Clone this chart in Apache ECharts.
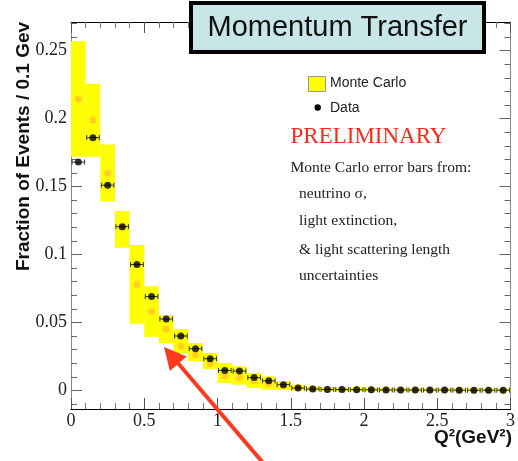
<!DOCTYPE html>
<html>
<head>
<meta charset="utf-8">
<script src="https://cdn.jsdelivr.net/npm/echarts@6/dist/echarts.min.js"></script>
<style>
html,body{margin:0;padding:0;background:#fff;}
#chart{width:518px;height:461px;}
</style>
</head>
<body>
<div id="chart"></div>
<script>
// ---- data ----
const binCenters = [0.05,0.15,0.25,0.35,0.45,0.55,0.65,0.75,0.85,0.95,
                    1.05,1.15,1.25,1.35,1.45,1.55,1.65,1.75,1.85,1.95,
                    2.05,2.15,2.25,2.35,2.45,2.55,2.65,2.75,2.85,2.95];
const dataValues = [0.168,0.186,0.151,0.1205,0.0926,0.069,0.0525,0.040,0.0307,0.0233,
                    0.0147,0.0142,0.0094,0.0070,0.0042,0.0017,0.0010,0.0007,0.0006,0.0005,
                    0.0004,0.0003,0.0003,0.0002,0.0002,0.0002,0.0001,0.0001,0.0001,0.0001];
const mcValues   = [0.2145,0.199,0.160,0.120,0.078,0.058,0.045,0.0324,0.0262,0.0198,
                    0.0105,0.0095,0.0070,0.0050,0.0035,0.0020,0.0012,0.0009,0.0007,0.0006,
                    0.0005,0.0004,0.0003,0.0003,0.0002,0.0002,0.0002,0.0001,0.0001,0.0001];
const mcLow      = [0.172,0.172,0.139,0.105,0.049,0.0395,0.0347,0.0272,0.0215,0.0157,
                    0.0054,0.0042,0.0017,0.0005,0.0002,0.0000,-0.0004,-0.0006,-0.0006,-0.0007,
                    -0.0007,-0.0007,-0.0007,-0.0007,-0.0007,-0.0007,-0.0007,-0.0007,-0.0007,-0.0007];
const mcHigh     = [0.257,0.2257,0.181,0.132,0.107,0.0767,0.0554,0.045,0.0348,0.0275,
                    0.0201,0.0176,0.0128,0.0103,0.0068,0.0042,0.0028,0.0024,0.0021,0.0020,
                    0.0018,0.0017,0.0016,0.0016,0.0015,0.0015,0.0015,0.0014,0.0014,0.0014];
const binHalfWidth = 0.05;
const yMajorTicks = [0,0.05,0.1,0.15,0.2,0.25];
const yMinorTicks = [-0.01,0.01,0.02,0.03,0.04,0.06,0.07,0.08,0.09,0.11,0.12,0.13,0.14,
                     0.16,0.17,0.18,0.19,0.21,0.22,0.23,0.24,0.26,0.27];
const xRange = [0, 3];
const yRange = [-0.0137, 0.2711];

// ---- chart ----
const chart = echarts.init(document.getElementById('chart'), null, {renderer:'canvas'});

const serif = 'Liberation Serif, Times New Roman, serif';
const sans = 'Liberation Sans, Arial, sans-serif';

const bandData = binCenters.map((c,i)=>[c-binHalfWidth, c+binHalfWidth, mcLow[i], mcHigh[i]]);
const mcPoints = binCenters.map((c,i)=>[c, mcValues[i]]);
const dataPoints = binCenters.map((c,i)=>[c, dataValues[i]]);

function xAxisBase(pos, showLabel){
  return {
    type:'value', min:xRange[0], max:xRange[1], interval:0.5, position:pos,
    axisLine:{show:true, onZero:false, lineStyle:{color:'#000', width:1}},
    axisTick:{show:true, inside:true, length:11, lineStyle:{color:'#555'}},
    minorTick:{show:true, splitNumber:5, length:6, lineStyle:{color:'#777'}},
    splitLine:{show:false}, minorSplitLine:{show:false},
    axisLabel:{show:showLabel, fontFamily:serif, fontSize:18, color:'#222', margin:3,
               showMinLabel:true, showMaxLabel:true}
  };
}
function yAxisBase(pos, ticks, len, showLabel, showLine){
  return {
    type:'value', min:yRange[0], max:yRange[1], position:pos,
    axisLine:{show:showLine, onZero:false, lineStyle:{color:'#888', width:1}},
    axisTick:{show:true, inside:true, length:len, customValues:ticks, lineStyle:{color:'#666'}},
    splitLine:{show:false},
    axisLabel:{show:showLabel, customValues:ticks, fontFamily:serif, fontSize:18, color:'#222', margin:4}
  };
}

const option = {
  animation:false,
  grid:{left:71, right:6, top:22, bottom:52, containLabel:false},
  xAxis:[ xAxisBase('bottom', true), xAxisBase('top', false) ],
  yAxis:[
    yAxisBase('left', yMajorTicks, 11, true, true),
    yAxisBase('left', yMinorTicks, 6, false, false),
    yAxisBase('right', yMajorTicks, 11, false, true),
    yAxisBase('right', yMinorTicks, 6, false, false)
  ],
  series:[
    {
      name:'Monte Carlo band', type:'custom', xAxisIndex:0, yAxisIndex:0, z:1,
      encode:{x:[0,1], y:[2,3]},
      data:bandData,
      renderItem:function(params, api){
        const p0 = api.coord([api.value(0), api.value(3)]);
        const p1 = api.coord([api.value(1), api.value(2)]);
        return {type:'rect', shape:{x:p0[0], y:p0[1], width:p1[0]-p0[0], height:p1[1]-p0[1]},
                style:{fill:'#ffff00'}};
      }
    },
    {
      name:'Monte Carlo', type:'scatter', xAxisIndex:0, yAxisIndex:0, z:2,
      data:mcPoints, symbol:'circle', symbolSize:7,
      itemStyle:{color:'#ffc425'}
    },
    {
      name:'Data errors', type:'custom', xAxisIndex:0, yAxisIndex:0, z:3,
      encode:{x:0, y:1},
      data:dataPoints,
      renderItem:function(params, api){
        const c = api.value(0), v = api.value(1);
        const a = api.coord([c-binHalfWidth, v]);
        const b = api.coord([c+binHalfWidth, v]);
        const st = {stroke:'#333', lineWidth:1};
        return {type:'group', children:[
          {type:'line', shape:{x1:a[0]+1, y1:a[1], x2:b[0]-1, y2:b[1]}, style:st},
          {type:'line', shape:{x1:a[0]+1, y1:a[1]-2.5, x2:a[0]+1, y2:a[1]+2.5}, style:st},
          {type:'line', shape:{x1:b[0]-1, y1:b[1]-2.5, x2:b[0]-1, y2:b[1]+2.5}, style:st}
        ]};
      }
    },
    {
      name:'Data', type:'scatter', xAxisIndex:0, yAxisIndex:0, z:4,
      data:dataPoints, symbol:'circle', symbolSize:7,
      itemStyle:{color:'#000'}
    }
  ],
  graphic:[
    // title box
    {type:'rect', z:100, shape:{x:191, y:3, width:293, height:49},
     style:{fill:'#c8e6e8', stroke:'#000', lineWidth:4}},
    {type:'text', z:101, x:337.5, y:28,
     style:{text:'Momentum Transfer', font:'29px ' + sans, fill:'#111', align:'center', verticalAlign:'middle'}},
    // legend
    {type:'rect', z:100, shape:{x:308.5, y:76.5, width:17, height:15},
     style:{fill:'#ffff00', stroke:'#999', lineWidth:1}},
    {type:'text', z:100, x:330, y:83,
     style:{text:'Monte Carlo', font:'14px ' + sans, fill:'#222', align:'left', verticalAlign:'middle'}},
    {type:'circle', z:100, shape:{cx:317.7, cy:107.5, r:3.2}, style:{fill:'#000'}},
    {type:'text', z:100, x:330, y:108,
     style:{text:'Data', font:'14px ' + sans, fill:'#222', align:'left', verticalAlign:'middle'}},
    // annotations
    {type:'text', z:100, x:290.5, y:137,
     style:{text:'PRELIMINARY', font:'23px ' + serif, fill:'#ff2a1a', align:'left', verticalAlign:'middle'}},
    {type:'text', z:100, x:290.5, y:168,
     style:{text:'Monte Carlo error bars from:', font:'15.5px ' + serif, fill:'#222', align:'left', verticalAlign:'middle'}},
    {type:'text', z:100, x:299, y:194,
     style:{text:'neutrino σ,', font:'15.5px ' + serif, fill:'#222', align:'left', verticalAlign:'middle'}},
    {type:'text', z:100, x:299, y:221,
     style:{text:'light extinction,', font:'15.5px ' + serif, fill:'#222', align:'left', verticalAlign:'middle'}},
    {type:'text', z:100, x:299, y:249.5,
     style:{text:'& light scattering length', font:'15.5px ' + serif, fill:'#222', align:'left', verticalAlign:'middle'}},
    {type:'text', z:100, x:299, y:276,
     style:{text:'uncertainties', font:'15.5px ' + serif, fill:'#222', align:'left', verticalAlign:'middle'}},
    // axis titles
    {type:'text', z:100, x:24, y:146.5, rotation:Math.PI/2,
     style:{text:'Fraction of Events / 0.1 Gev', font:'bold 19px ' + sans, fill:'#111', align:'center', verticalAlign:'middle'}},
    {type:'text', z:100, x:512, y:438,
     style:{text:'Q²(GeV²)', font:'bold 19px ' + sans, fill:'#111', align:'right', verticalAlign:'middle'}},
    // red arrow
    {type:'line', z:100, shape:{x1:177, y1:362, x2:276, y2:478},
     style:{stroke:'#ff3a1e', lineWidth:4}},
    {type:'polygon', z:100, shape:{points:[[164,347],[169.9,370.9],[186.7,356.5]]},
     style:{fill:'#ff3a1e'}}
  ]
};
chart.setOption(option);
</script>
</body>
</html>
